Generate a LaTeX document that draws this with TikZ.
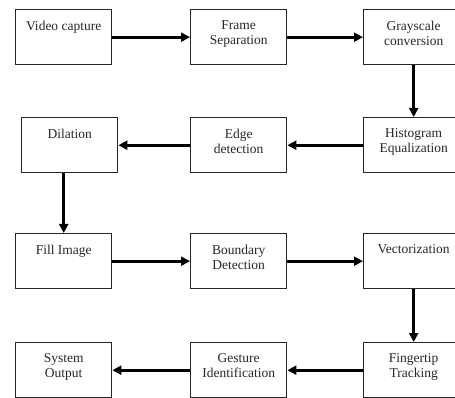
\documentclass[tikz,border=0pt]{standalone}
\usepackage{fontspec}
\setmainfont{Liberation Serif}
\usetikzlibrary{arrows.meta}
\begin{document}
\begin{tikzpicture}[x=1pt,y=-1pt,
  box/.style={draw=black!85, line width=1.4pt, minimum width=96pt, minimum height=55pt, inner sep=0pt, anchor=north west},
  rbox/.style={box, minimum width=100pt},
  lbl/.style={anchor=north, inner sep=0pt, align=center, font=\fontsize{13.5}{15}\selectfont, text=black!85},
  arr/.style={line width=3pt, -{Triangle[length=9pt,width=9pt]}, draw=black}]
\useasboundingbox (0,0) rectangle (455,398);
\clip (0,0) rectangle (455,398);
% row 1
\node[box]  (vc) at (15,9) {};
\node[box]  (fs) at (190,9) {};
\node[rbox] (gc) at (363,9) {};
% row 2
\node[box]  (dil) at (21,117) {};
\node[box]  (ed) at (190,117) {};
\node[rbox] (hist) at (363,117) {};
% row 3
\node[box]  (fill) at (15,233) {};
\node[box]  (bd) at (190,233) {};
\node[rbox] (vec) at (363,233) {};
% row 4
\node[box]  (so) at (15,342) {};
\node[box]  (gi) at (190,342) {};
\node[rbox] (ft) at (363,342) {};
% labels
\node[lbl] (vct) at ([yshift=-11.5pt]vc.north) {Video capture};
\node[lbl] (fst) at ([yshift=-11.5pt]fs.north) {Frame\\Separation};
\node[lbl] (gct) at ([yshift=-11.5pt]gc.north) {Grayscale\\conversion};
\node[lbl] (dilt) at ([yshift=-11.5pt]dil.north) {Dilation};
\node[lbl] (edt) at ([yshift=-11.5pt]ed.north) {Edge\\detection};
\node[lbl] (histt) at ([yshift=-11.5pt]hist.north) {Histogram\\Equalization};
\node[lbl] (fillt) at ([yshift=-11.5pt]fill.north) {Fill Image};
\node[lbl] (bdt) at ([yshift=-11.5pt]bd.north) {Boundary\\Detection};
\node[lbl] (vect) at ([yshift=-11.5pt]vec.north) {Vectorization};
\node[lbl] (sot) at ([yshift=-11.5pt]so.north) {System\\Output};
\node[lbl] (git) at ([yshift=-11.5pt]gi.north) {Gesture\\Identification};
\node[lbl] (ftt) at ([yshift=-11.5pt]ft.north) {Fingertip\\Tracking};
% arrows
\draw[arr] (vc.east) -- (fs.west);
\draw[arr] (fs.east) -- (gc.west);
\draw[arr] (gc.south) -- (hist.north);
\draw[arr] (hist.west) -- (ed.east);
\draw[arr] (ed.west) -- (dil.east);
\draw[arr] (fill.north |- dil.south) -- (fill.north);
\draw[arr] (fill.east) -- (bd.west);
\draw[arr] (bd.east) -- (vec.west);
\draw[arr] (vec.south) -- (ft.north);
\draw[arr] (ft.west) -- (gi.east);
\draw[arr] (gi.west) -- (so.east);
\end{tikzpicture}
\end{document}
